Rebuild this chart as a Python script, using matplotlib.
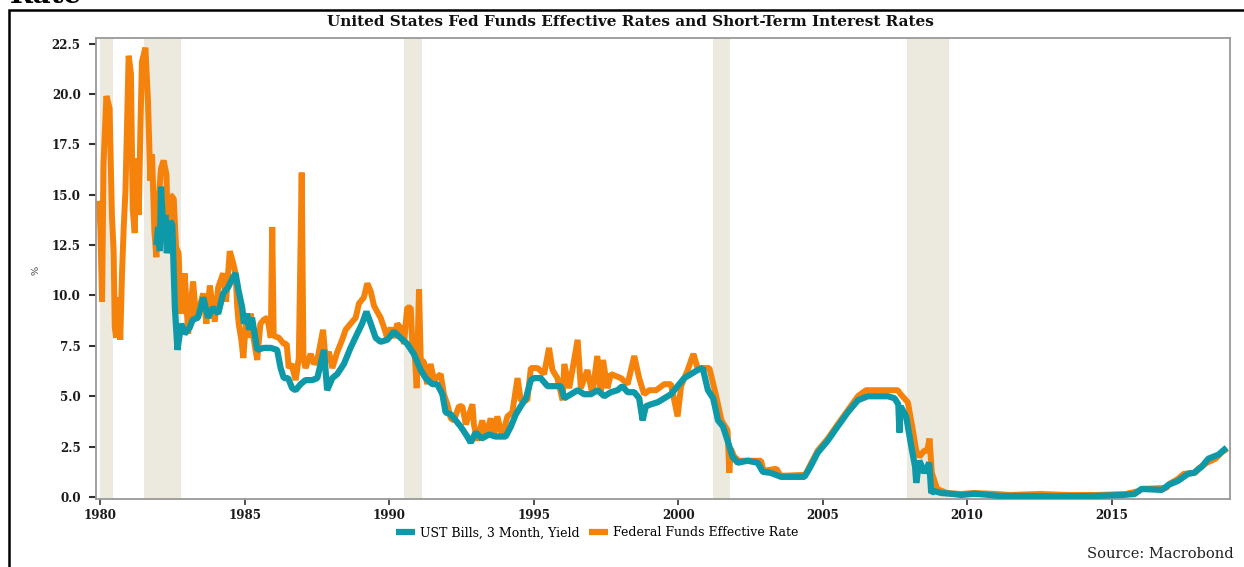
import matplotlib
matplotlib.use("Agg")
import matplotlib.pyplot as plt
from matplotlib.lines import Line2D
from matplotlib.patches import Rectangle

# ---------------- data ----------------
title = "United States Fed Funds Effective Rates and Short-Term Interest Rates"
series_names = ["UST Bills, 3 Month, Yield", "Federal Funds Effective Rate"]
source_text = "Source: Macrobond"
y_unit = "%"

year_ticks = [1980, 1985, 1990, 1995, 2000, 2005, 2010, 2015]
value_ticks = [0.0, 2.5, 5.0, 7.5, 10.0, 12.5, 15.0, 17.5, 20.0, 22.5]

recession_start = [1980.00, 1981.50, 1990.50, 2001.20, 2007.92]
recession_end = [1980.45, 1982.78, 1991.12, 2001.80, 2009.38]

ff_years = [
    1979.95, 1980.00, 1980.06, 1980.11, 1980.21, 1980.32, 1980.40, 1980.46, 1980.50, 1980.55,
    1980.63, 1980.69, 1980.75, 1980.81, 1980.87, 1980.98, 1981.06, 1981.12, 1981.19, 1981.25,
    1981.33, 1981.39, 1981.44, 1981.56, 1981.65, 1981.73, 1981.79, 1981.87, 1981.94, 1982.02,
    1982.10, 1982.19, 1982.29, 1982.34, 1982.43, 1982.54, 1982.62, 1982.71, 1982.77, 1982.80,
    1982.92, 1983.04, 1983.21, 1983.32, 1983.56, 1983.67, 1983.79, 1983.96, 1984.08, 1984.25,
    1984.35, 1984.48, 1984.58, 1984.68, 1984.74, 1984.79, 1984.88, 1984.95, 1985.06, 1985.17,
    1985.20, 1985.30, 1985.43, 1985.54, 1985.66, 1985.78, 1985.90, 1985.95, 1986.00, 1986.18,
    1986.35, 1986.45, 1986.52, 1986.62, 1986.76, 1986.87, 1986.97, 1987.03, 1987.10, 1987.28,
    1987.40, 1987.51, 1987.71, 1987.79, 1987.91, 1988.03, 1988.20, 1988.37, 1988.49, 1988.66,
    1988.84, 1988.95, 1989.12, 1989.24, 1989.36, 1989.47, 1989.58, 1989.70, 1989.82, 1989.93,
    1990.05, 1990.16, 1990.28, 1990.39, 1990.51, 1990.62, 1990.74, 1990.80, 1990.85, 1990.95,
    1991.03, 1991.09, 1991.20, 1991.31, 1991.43, 1991.55, 1991.78, 1991.89, 1992.01, 1992.13,
    1992.24, 1992.41, 1992.53, 1992.65, 1992.88, 1992.93, 1993.05, 1993.22, 1993.33, 1993.51,
    1993.62, 1993.74, 1993.91, 1994.09, 1994.26, 1994.44, 1994.55, 1994.78, 1994.90, 1995.13,
    1995.36, 1995.53, 1995.65, 1995.82, 1996.00, 1996.06, 1996.23, 1996.52, 1996.63, 1996.86,
    1997.03, 1997.20, 1997.32, 1997.40, 1997.55, 1997.67, 1998.02, 1998.25, 1998.48, 1998.65,
    1998.82, 1999.00, 1999.24, 1999.52, 1999.75, 1999.98, 2000.10, 2000.33, 2000.45, 2000.53,
    2000.67, 2001.08, 2001.30, 2001.50, 2001.71, 2001.77, 2001.82, 2001.94, 2002.10, 2002.87,
    2002.95, 2003.40, 2003.55, 2004.40, 2004.54, 2004.83, 2005.18, 2005.52, 2005.87, 2006.22,
    2006.50, 2007.60, 2007.70, 2007.95, 2008.10, 2008.24, 2008.35, 2008.52, 2008.62, 2008.70,
    2008.78, 2008.96, 2009.30, 2009.80, 2010.25, 2011.00, 2011.50, 2012.50, 2013.50, 2014.50,
    2015.50, 2015.95, 2016.04, 2016.90, 2017.00, 2017.30, 2017.50, 2017.90, 2018.00, 2018.30,
    2018.60, 2018.80, 2019.00,
]
ff_values = [
    14.7, 13.4, 9.7, 16.5, 19.9, 19.3, 14.0, 12.2, 8.4, 7.9,
    9.9, 7.8, 11.1, 13.4, 15.2, 21.9, 21.0, 14.3, 13.1, 16.8,
    14.0, 18.5, 21.6, 22.3, 19.6, 15.7, 17.0, 13.2, 11.9, 14.8,
    16.3, 16.7, 16.0, 12.7, 15.0, 14.8, 12.4, 12.1, 9.4, 9.1,
    11.1, 8.1, 10.7, 8.8, 10.1, 8.6, 10.5, 8.7, 10.4, 11.1,
    9.7, 12.2, 11.7, 11.1, 9.4, 8.6, 7.8, 6.9, 9.1, 7.9,
    9.1, 7.9, 6.8, 8.6, 8.8, 8.9, 7.9, 13.4, 8.0, 7.9,
    7.6, 7.6, 6.4, 6.6, 5.8, 6.9, 16.1, 6.9, 6.4, 7.1,
    6.6, 6.8, 8.3, 6.9, 7.2, 6.4, 7.2, 7.8, 8.3, 8.6,
    8.9, 9.6, 9.9, 10.6, 10.2, 9.5, 9.2, 8.9, 8.4, 7.9,
    8.4, 7.9, 8.6, 8.4, 7.6, 9.4, 9.4, 7.6, 7.9, 5.4,
    10.3, 6.8, 6.7, 5.6, 6.6, 5.8, 6.1, 5.1, 4.6, 3.9,
    3.8, 4.5, 4.5, 3.6, 4.6, 3.6, 2.8, 3.8, 3.0, 3.9,
    3.0, 4.0, 3.0, 4.0, 4.2, 5.9, 4.8, 4.8, 6.4, 6.4,
    6.1, 7.4, 6.3, 5.9, 4.8, 6.6, 5.4, 7.8, 5.4, 6.3,
    5.1, 7.0, 5.1, 6.8, 5.4, 6.1, 5.9, 5.6, 7.0, 5.9,
    5.1, 5.3, 5.3, 5.6, 5.6, 4.0, 5.5, 6.3, 6.8, 7.1,
    6.4, 6.4, 5.1, 3.8, 3.3, 1.2, 2.4, 2.0, 1.8, 1.8,
    1.3, 1.4, 1.05, 1.1, 1.5, 2.3, 2.9, 3.6, 4.3, 5.0,
    5.3, 5.3, 5.1, 4.7, 3.5, 2.3, 2.0, 2.3, 2.3, 2.9,
    1.2, 0.4, 0.2, 0.15, 0.2, 0.15, 0.1, 0.15, 0.1, 0.1,
    0.15, 0.3, 0.4, 0.45, 0.65, 0.9, 1.15, 1.2, 1.4, 1.7,
    1.9, 2.2, 2.4,
]

tb_years = [
    1981.94, 1982.00, 1982.06, 1982.10, 1982.15, 1982.20, 1982.25, 1982.30, 1982.37, 1982.42,
    1982.49, 1982.58, 1982.67, 1982.80, 1982.92, 1983.09, 1983.20, 1983.38, 1983.56, 1983.73,
    1983.90, 1984.08, 1984.25, 1984.42, 1984.59, 1984.68, 1984.79, 1984.91, 1984.97, 1985.08,
    1985.15, 1985.25, 1985.43, 1985.66, 1985.90, 1986.12, 1986.24, 1986.35, 1986.50, 1986.64,
    1986.76, 1986.93, 1987.10, 1987.33, 1987.51, 1987.74, 1987.85, 1988.03, 1988.20, 1988.43,
    1988.66, 1988.89, 1989.06, 1989.21, 1989.36, 1989.53, 1989.70, 1989.93, 1990.16, 1990.39,
    1990.62, 1990.85, 1991.09, 1991.26, 1991.49, 1991.66, 1991.84, 1991.95, 1992.13, 1992.30,
    1992.47, 1992.70, 1992.82, 1992.99, 1993.20, 1993.45, 1993.68, 1993.85, 1994.03, 1994.21,
    1994.38, 1994.55, 1994.73, 1994.90, 1995.01, 1995.24, 1995.48, 1995.71, 1995.94, 1996.06,
    1996.29, 1996.52, 1996.75, 1996.98, 1997.21, 1997.44, 1997.67, 1997.90, 1998.07, 1998.25,
    1998.48, 1998.65, 1998.77, 1998.88, 1999.06, 1999.29, 1999.52, 1999.75, 1999.98, 2000.21,
    2000.44, 2000.67, 2000.85, 2001.03, 2001.21, 2001.38, 2001.55, 2001.71, 2001.88, 2002.06,
    2002.40, 2002.75, 2002.93, 2003.20, 2003.56, 2004.02, 2004.37, 2004.54, 2004.83, 2005.18,
    2005.52, 2005.87, 2006.22, 2006.56, 2006.91, 2007.26, 2007.49, 2007.62, 2007.66, 2007.70,
    2007.89, 2008.07, 2008.20, 2008.24, 2008.35, 2008.52, 2008.69, 2008.76, 2008.85, 2009.10,
    2009.50, 2009.80, 2010.25, 2010.80, 2011.10, 2012.00, 2013.00, 2014.42, 2015.40, 2015.80,
    2016.04, 2016.74, 2016.97, 2017.30, 2017.65, 2017.85, 2018.12, 2018.35, 2018.70, 2018.98,
]
tb_values = [
    12.5, 13.4, 12.2, 15.4, 14.0, 12.7, 14.0, 12.1, 12.7, 13.7,
    13.5, 9.4, 7.3, 8.6, 8.1, 8.4, 8.8, 8.9, 9.9, 8.9,
    9.4, 9.1, 10.1, 10.4, 10.9, 11.1, 10.2, 9.4, 8.6, 9.1,
    8.3, 8.9, 7.3, 7.4, 7.4, 7.3, 6.4, 5.9, 5.9, 5.4,
    5.3, 5.6, 5.8, 5.8, 5.9, 7.3, 5.3, 5.9, 6.1, 6.6,
    7.4, 8.1, 8.6, 9.2, 8.6, 7.9, 7.7, 7.8, 8.2, 7.9,
    7.6, 7.1, 6.3, 5.9, 5.6, 5.6, 5.1, 4.2, 4.1, 3.8,
    3.5, 3.0, 2.7, 3.2, 2.9, 3.1, 3.0, 3.0, 3.0, 3.5,
    4.1, 4.5, 4.9, 5.8, 5.9, 5.9, 5.5, 5.5, 5.5, 4.9,
    5.1, 5.3, 5.1, 5.1, 5.3, 5.0, 5.2, 5.3, 5.5, 5.2,
    5.2, 4.9, 3.8, 4.5, 4.6, 4.7, 4.9, 5.1, 5.5, 5.9,
    6.1, 6.3, 6.4, 5.3, 4.9, 3.8, 3.5, 2.8, 2.0, 1.7,
    1.8, 1.7, 1.25, 1.2, 1.0, 1.0, 1.0, 1.4, 2.2, 2.8,
    3.5, 4.2, 4.8, 5.0, 5.0, 5.0, 4.9, 4.6, 3.2, 4.5,
    4.0, 2.5, 1.5, 0.7, 1.8, 1.2, 1.7, 0.2, 0.3, 0.2,
    0.15, 0.1, 0.16, 0.1, 0.05, 0.05, 0.03, 0.05, 0.1, 0.15,
    0.4, 0.35, 0.6, 0.8, 1.15, 1.2, 1.5, 1.9, 2.1, 2.45,
]

# ---------------- style ----------------
TEAL = "#0E99A8"
ORANGE = "#F5820A"
RECESSION = "#ECE9DF"
SERIF = ["DejaVu Serif"]

W, H = 1244, 567
fig = plt.figure(figsize=(W / 100, H / 100), dpi=100)

# outer frame (extends past right and bottom edges)
fig.patches.append(Rectangle((9 / W, -0.2), 1.3, 1 - 9.5 / H + 0.2,
                             transform=fig.transFigure, fill=False,
                             edgecolor="black", linewidth=1.8, zorder=0))
fig.text(10 / W, 1 - 3 / H, "Rate", family=SERIF, fontweight="bold",
         fontsize=20, ha="left", va="baseline", color="black")

ax = fig.add_axes([96 / W, 1 - 499 / H, (1230 - 96) / W, (499 - 38) / H])
for a, b in zip(recession_start, recession_end):
    ax.axvspan(a, b, color=RECESSION, lw=0, zorder=0)

ax.plot(ff_years, ff_values, color=ORANGE, lw=4.3, zorder=2,
        solid_joinstyle="bevel", solid_capstyle="butt")
ax.plot(tb_years, tb_values, color=TEAL, lw=4.5, zorder=3,
        solid_joinstyle="bevel", solid_capstyle="butt")

ax.set_xlim(1979.85, 2019.10)
ax.set_ylim(-0.1, 22.78)
ax.set_xticks(year_ticks)
ax.set_xticklabels([str(y) for y in year_ticks])
ax.set_yticks(value_ticks)
ax.set_yticklabels([f"{v:.1f}" for v in value_ticks])
for lab in ax.get_xticklabels() + ax.get_yticklabels():
    lab.set_family(SERIF)
    lab.set_fontweight("bold")
    lab.set_fontsize(8.6)
    lab.set_color("#1a1a1a")
ax.tick_params(axis="y", direction="out", length=5, width=1.5, color="#333333", pad=6)
ax.tick_params(axis="x", direction="out", length=4, width=1.2, color="#333333", pad=3)
for s in ax.spines.values():
    s.set_color("#999999")
    s.set_linewidth(1.3)

fig.text(630 / W, 1 - 22 / H, title, family=SERIF, fontweight="bold",
         fontsize=11, ha="center", va="center", color="#111111")
fig.text(36 / W, 1 - 270 / H, y_unit, family=SERIF, fontsize=7,
         rotation=90, ha="center", va="center", color="#333333")
fig.text(1234 / W, 1 - 554 / H, source_text, family=SERIF, fontsize=10.5,
         ha="right", va="center", color="#222222")

handles = [Line2D([], [], color=TEAL, lw=4.5, solid_capstyle="butt"),
           Line2D([], [], color=ORANGE, lw=4.5, solid_capstyle="butt")]
fig.legend(handles, series_names, loc="center", bbox_to_anchor=(597 / W, 1 - 533 / H),
           ncol=2, frameon=False, prop={"family": SERIF, "size": 9},
           handlelength=1.5, handletextpad=0.4, columnspacing=0.8)

fig.savefig("out.png", dpi=100)
